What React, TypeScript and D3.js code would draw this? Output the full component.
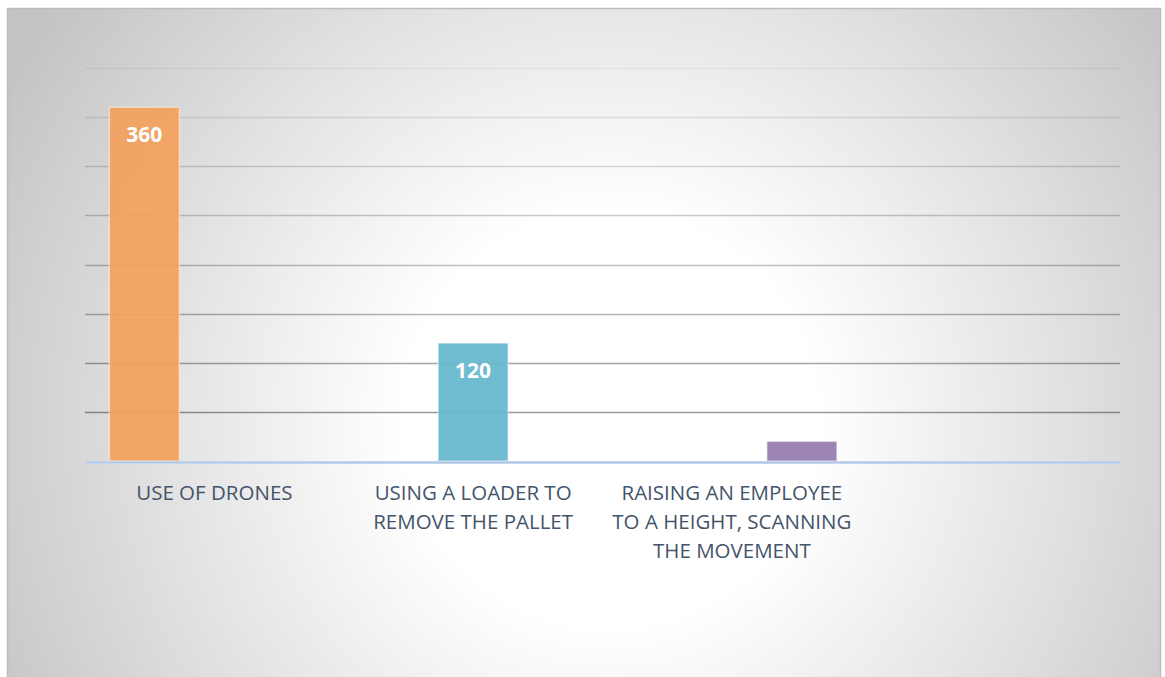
import React from "react";
import * as d3 from "d3";

const categories = [
  "USE OF DRONES",
  "USING A LOADER TO REMOVE THE PALLET",
  "RAISING AN EMPLOYEE TO A HEIGHT, SCANNING THE MOVEMENT",
  "",
];
const categoryLines = [
  ["USE OF DRONES"],
  ["USING A LOADER TO", "REMOVE THE PALLET"],
  ["RAISING AN EMPLOYEE", "TO A HEIGHT, SCANNING", "THE MOVEMENT"],
  [],
];
const seriesNames = ["Drones", "Loader", "Employee lift"];
const seriesColors = ["#f2a05c", "#65b7cd", "#957bb0"];
// one value per series, each placed in its own category
const seriesCategory = [0, 1, 2];
const seriesValues = [360, 120, 20];
const seriesShowLabel = [true, true, false];
const yTicks = [0, 50, 100, 150, 200, 250, 300, 350, 400];

const W = 1165;
const H = 677;
const plot = { left: 85, right: 1120, top: 68, bottom: 461 };

export default function App() {
  const x0 = d3
    .scaleBand<string>()
    .domain(categories)
    .range([plot.left, plot.right])
    .padding(0);
  const x1 = d3
    .scaleBand<string>()
    .domain(seriesNames)
    .range([0, x0.bandwidth()])
    .paddingInner(0)
    .paddingOuter(0.348);
  const y = d3.scaleLinear().domain([0, 400]).range([plot.bottom, plot.top]);

  const font = "'Open Sans', 'Liberation Sans', sans-serif";

  return (
    <svg
      width={W}
      height={H}
      style={{ position: "fixed", left: 0, top: 0, display: "block" }}
    >
      <defs>
        <radialGradient
          id="bg"
          gradientUnits="userSpaceOnUse"
          cx={610}
          cy={420}
          r={690}
        >
          <stop offset="0" stopColor="#ffffff" />
          <stop offset="0.3" stopColor="#ffffff" />
          <stop offset="0.65" stopColor="#e2e2e2" />
          <stop offset="1" stopColor="#c4c4c4" />
        </radialGradient>
        <linearGradient
          id="gridStroke"
          gradientUnits="userSpaceOnUse"
          x1={0}
          y1={plot.top}
          x2={0}
          y2={plot.bottom}
        >
          <stop offset="0" stopColor="#000" stopOpacity={0.05} />
          <stop offset="1" stopColor="#000" stopOpacity={0.45} />
        </linearGradient>
      </defs>
      <rect x={0} y={0} width={W} height={H} fill="#ffffff" />
      <rect
        x={7.5}
        y={8.5}
        width={1153}
        height={H}
        fill="url(#bg)"
        stroke="#bdbdbd"
        strokeWidth={1.5}
      />

      {/* horizontal gridlines */}
      {yTicks.slice(1).map((t) => (
        <line
          key={t}
          x1={plot.left}
          x2={plot.right}
          y1={Math.round(y(t)) + 0.5}
          y2={Math.round(y(t)) + 0.5}
          stroke="url(#gridStroke)"
          strokeWidth={1.5}
        />
      ))}

      {/* bars */}
      {seriesNames.map((s, i) => {
        const cat = categories[seriesCategory[i]];
        const bx = (x0(cat) ?? 0) + (x1(s) ?? 0);
        const by = y(seriesValues[i]);
        return (
          <rect
            key={s}
            x={bx}
            y={by}
            width={x1.bandwidth()}
            height={y(0) - by}
            fill={seriesColors[i]}
            fillOpacity={0.93}
            stroke="#ffffff"
            strokeOpacity={0.45}
            strokeWidth={1.5}
          />
        );
      })}

      {/* baseline */}
      <line
        x1={plot.left}
        x2={plot.right}
        y1={y(0) + 1.5}
        y2={y(0) + 1.5}
        stroke="#c6d6ec"
        strokeWidth={3}
      />
      <line
        x1={plot.left}
        x2={plot.right}
        y1={y(0) + 1.5}
        y2={y(0) + 1.5}
        stroke="#b2c6e4"
        strokeWidth={1}
      />

      {/* value labels */}
      {seriesNames.map((s, i) =>
        seriesShowLabel[i] ? (
          <text
            key={s}
            x={(x0(categories[seriesCategory[i]]) ?? 0) + (x1(s) ?? 0) + x1.bandwidth() / 2}
            y={y(seriesValues[i]) + 35}
            textAnchor="middle"
            fill="#ffffff"
            fontFamily={font}
            fontWeight={700}
            fontSize={21}
          >
            {seriesValues[i]}
          </text>
        ) : null
      )}

      {/* category labels */}
      {categories.map((c, i) => (
        <text
          key={i}
          x={(x0(c) ?? 0) + x0.bandwidth() / 2}
          textAnchor="middle"
          fill="#44546a"
          fontFamily={font}
          fontSize={20.5}
        >
          {categoryLines[i].map((ln, j) => (
            <tspan key={j} x={(x0(c) ?? 0) + x0.bandwidth() / 2} y={500 + j * 29}>
              {ln}
            </tspan>
          ))}
        </text>
      ))}
    </svg>
  );
}
